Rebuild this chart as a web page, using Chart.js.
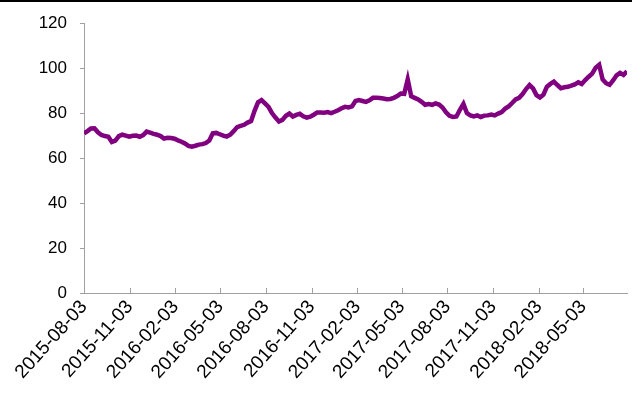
<!DOCTYPE html>
<html>
<head>
<meta charset="utf-8">
<script src="https://cdn.jsdelivr.net/npm/chart.js@4/dist/chart.umd.min.js"></script>
<style>
    html, body { margin: 0; padding: 0; background: #fff; }
    #wrap { position: relative; width: 632px; height: 401px; }
    #topbar { position: absolute; left: 0; top: 0; width: 632px; height: 2px; background: #000; }
    canvas { position: absolute; left: 0; top: 0; }
</style>
</head>
<body>
<div id="wrap">
    <canvas id="priceChart" width="632" height="401"></canvas>
    <div id="topbar"></div>
</div>
<script>
// weekly readings, first week starts 2015-08-03
const startDate = '2015-08-03';
const weekStep = 7;
const values = [
    71, 72, 73.2, 73.3, 71.5, 70.3, 69.8, 69.5, 67.2, 67.8,
    69.8, 70.4, 70, 69.5, 69.9, 70, 69.5, 70.2, 71.8, 71.3,
    70.8, 70.4, 69.8, 68.7, 69, 68.9, 68.6, 67.9, 67.3, 66.5,
    65.4, 65.1, 65.5, 66, 66.2, 66.7, 67.8, 71, 71.2, 70.6,
    70, 69.6, 70.4, 72, 73.8, 74.3, 74.8, 75.8, 76.5, 81,
    84.8, 85.8, 84.3, 82.8, 80, 78, 76.3, 77, 78.8, 79.8,
    78.5, 79.2, 79.7, 78.6, 78, 78.4, 79.3, 80.3, 80.3, 80.2,
    80.5, 80, 80.6, 81.3, 82.2, 82.8, 82.5, 83, 85.4, 85.8,
    85.4, 85, 85.7, 86.8, 86.8, 86.7, 86.5, 86.2, 86.3, 86.8,
    87.6, 88.7, 88.6, 95, 87.5, 86.8, 86.1, 85, 83.7, 84,
    83.7, 84.3, 83.8, 82.5, 80.4, 78.8, 78.3, 78.5, 81.5, 84.1,
    80, 79, 78.5, 79, 78.3, 78.9, 79, 79.4, 79, 79.8,
    80.5, 82, 83, 84.5, 86.1, 86.8, 88.5, 90.7, 92.5, 91,
    88, 87, 88.2, 91.8, 93, 94, 92.5, 91.1, 91.5, 91.7,
    92.2, 92.8, 93.7, 93, 94.7, 96.2, 97.6, 100.2, 101.5, 95,
    93.3, 92.6, 94.5, 96.8, 97.9, 97, 98.6
];
const tickLabels = [
    '2015-08-03', '2015-11-03', '2016-02-03', '2016-05-03',
    '2016-08-03', '2016-11-03', '2017-02-03', '2017-05-03',
    '2017-08-03', '2017-11-03', '2018-02-03', '2018-05-03'
];
const yTicks = [0, 20, 40, 60, 80, 100, 120];

const DAY = 24 * 3600 * 1000;
function dayOffset(dateStr) {
    return Math.round((Date.parse(dateStr) - Date.parse(startDate)) / DAY);
}

const points = values.map((v, i) => ({ x: i * weekStep, y: v }));
const tickDays = tickLabels.map(dayOffset);
const lastDay = (values.length - 1) * weekStep;

const axisColor = '#a0a0a0';
const fontFamily = "'Liberation Sans', Arial, sans-serif";

// excel style: x tick marks point up into the plot
const innerTicks = {
    id: 'innerTicks',
    afterDraw(chart) {
        const xs = chart.scales.x;
        const ctx = chart.ctx;
        const bottom = chart.chartArea.bottom;
        ctx.save();
        ctx.strokeStyle = axisColor;
        ctx.lineWidth = 1;
        ctx.beginPath();
        tickDays.forEach(d => {
            const px = Math.round(xs.getPixelForValue(d)) + 0.5;
            ctx.moveTo(px, bottom);
            ctx.lineTo(px, bottom - 5);
        });
        ctx.stroke();
        ctx.restore();
    }
};

document.addEventListener('DOMContentLoaded', function() {
    const ctx = document.getElementById('priceChart').getContext('2d');
    window.priceChart = new Chart(ctx, {
        type: 'line',
        data: {
            datasets: [{
                data: points,
                borderColor: '#800080',
                borderWidth: 4.5,
                pointRadius: 0,
                tension: 0,
                fill: false
            }]
        },
        options: {
            responsive: false,
            animation: false,
            layout: { padding: { top: 6, right: 5, left: 0, bottom: 0 } },
            plugins: {
                legend: { display: false },
                tooltip: { enabled: false }
            },
            scales: {
                x: {
                    type: 'linear',
                    min: 0,
                    max: lastDay,
                    afterBuildTicks: function(scale) {
                        scale.ticks = tickDays.map(d => ({ value: d }));
                    },
                    afterFit: function(scale) {
                        scale.height = 108;
                    },
                    ticks: {
                        autoSkip: false,
                        maxRotation: 48,
                        minRotation: 48,
                        padding: 3,
                        color: '#000',
                        font: { family: fontFamily, size: 19 },
                        callback: function(value, index) {
                            return tickLabels[index];
                        }
                    },
                    grid: { display: false, drawTicks: false },
                    border: { display: true, color: axisColor, width: 1 }
                },
                y: {
                    min: 0,
                    max: 120,
                    afterBuildTicks: function(scale) {
                        scale.ticks = yTicks.map(v => ({ value: v }));
                    },
                    afterFit: function(scale) {
                        scale.width = 84;
                    },
                    ticks: {
                        padding: 13,
                        color: '#000',
                        font: { family: fontFamily, size: 17 }
                    },
                    grid: {
                        drawOnChartArea: false,
                        drawTicks: true,
                        tickLength: 4,
                        color: axisColor
                    },
                    border: { display: true, color: axisColor, width: 1 }
                }
            }
        },
        plugins: [innerTicks]
    });
});
</script>
</body>
</html>
